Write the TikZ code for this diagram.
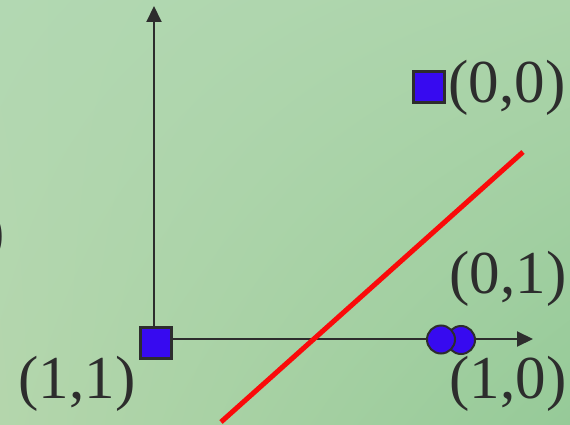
\documentclass[tikz,border=0pt]{standalone}
\usepackage{fontspec}
\setmainfont{Liberation Serif}
\usetikzlibrary{arrows.meta,shadings}
\definecolor{ink}{RGB}{45,45,45}
\definecolor{ptblue}{RGB}{55,10,240}
\definecolor{ptred}{RGB}{250,10,10}
\definecolor{bgUL}{RGB}{178,216,178}
\definecolor{bgUR}{RGB}{172,212,170}
\definecolor{bgLL}{RGB}{180,214,172}
\definecolor{bgLR}{RGB}{150,202,152}
\begin{document}
\begin{tikzpicture}[x=1pt,y=-1pt,
  lbl/.style={font=\fontsize{61}{61}\selectfont, text=ink, inner sep=0pt, anchor=base},
  sq/.style={draw=ink, line width=3pt, fill=ptblue, minimum size=31pt, inner sep=0pt, rectangle},
  dot/.style={circle, draw=ink, line width=2pt, fill=ptblue, minimum size=28pt, inner sep=0pt},
  axis/.style={draw=ink, line width=2pt, -{Triangle[length=16pt,width=15pt]}},
  sep/.style={draw=ptred, line width=5pt}]
\useasboundingbox (0,0) rectangle (570,425);
\clip (0,0) rectangle (570,425);
\shade[upper left=bgUL, upper right=bgUR, lower left=bgLL, lower right=bgLR] (0,0) rectangle (570,425);
% axes
\coordinate (o) at (154,339);
\coordinate (ytop) at (154,6);
\coordinate (xend) at (533,339);
\draw[axis] (o) -- (ytop);
\draw[axis] (o) -- (xend);
% separating line
\coordinate (s1) at (221,422);
\coordinate (s2) at (523,152);
\draw[sep] (s1) -- (s2);
% points
\node[sq] (p11) at (156,343) {};
\node[sq] (p00) at (429,87) {};
\node[dot] (p01) at (461,340) {};
\node[dot] (p10) at (441,339.5) {};
% labels
\node[lbl] (l00) at (507,103) {(0,0)};
\node[lbl] (l01) at (508,293) {(0,1)};
\node[lbl] (l10) at (508,398) {(1,0)};
\node[lbl] (l11) at (77,398) {(1,1)};
\node[lbl, anchor=base east] (lcut) at (5,251) {)};
\end{tikzpicture}
\end{document}
